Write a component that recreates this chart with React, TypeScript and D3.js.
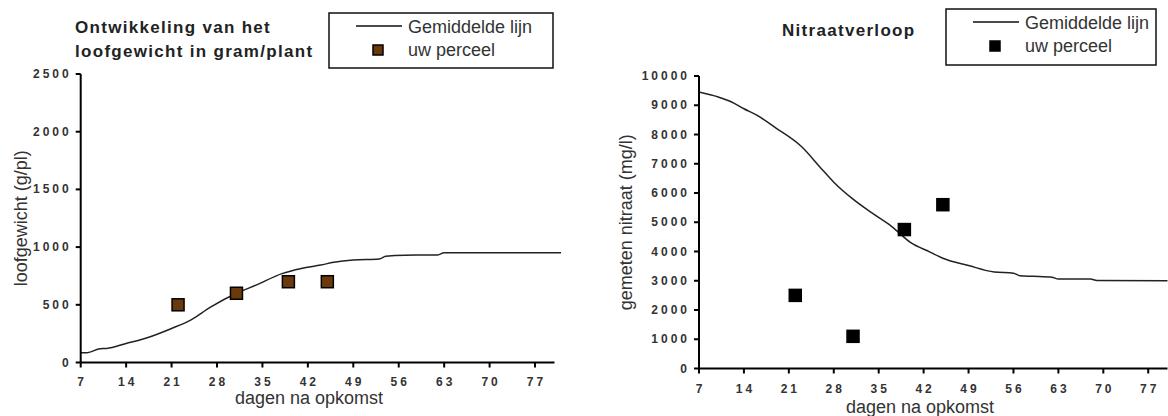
import React from 'react';
import * as d3 from 'd3';

// ---------- data ----------
const xTicks = [7, 14, 21, 28, 35, 42, 49, 56, 63, 70, 77];

const loofYTicks = [0, 500, 1000, 1500, 2000, 2500];
const loofDays = [7, 8, 10, 11, 14, 17, 21, 24, 27, 31, 34, 38, 41, 44, 46, 49, 53, 54, 57, 62, 63, 81];
const loofMean = [85, 85, 120, 122, 165, 210, 295, 370, 480, 600, 670, 770, 815, 845, 868, 888, 897, 920, 930, 932, 950, 950];
const loofPlotDays = [22, 31, 39, 45];
const loofPlotValues = [500, 600, 700, 700];

const nitraatYTicks = [0, 1000, 2000, 3000, 4000, 5000, 6000, 7000, 8000, 9000, 10000];
const nitraatDays = [7, 10, 12, 14, 16, 19, 23, 26, 28, 31, 34, 37, 40, 43, 45, 49, 53, 56, 57, 59, 62, 63, 68, 69, 80];
const nitraatMean = [9450, 9280, 9120, 8880, 8660, 8220, 7580, 6850, 6370, 5790, 5310, 4860, 4300, 3980, 3770, 3520, 3300, 3260, 3170, 3150, 3120, 3060, 3060, 3010, 3000];
const nitraatPlotDays = [22, 31, 39, 45];
const nitraatPlotValues = [2500, 1100, 4750, 5600];

const legendLine = 'Gemiddelde lijn';
const legendPoint = 'uw perceel';
const xTitle = 'dagen na opkomst';

const FONT = '"Liberation Sans", Arial, sans-serif';

type PanelProps = {
  x0: number; x1: number; y0: number; y1: number;
  yMax: number; yTicks: number[];
  days: number[]; mean: number[];
  pDays: number[]; pVals: number[];
  markerFill: string;
  yTitle: string; yTitleX: number;
  xLabelY: number; xTitleX: number; xTitleY: number;
  titleLines: string[]; titleX: number; titleY: number;
  legend: { x: number; y: number; w: number; h: number };
};

function Panel(p: PanelProps) {
  const x = d3.scaleLinear().domain([7, 80]).range([p.x0, p.x1]);
  const y = d3.scaleLinear().domain([0, p.yMax]).range([p.y0, p.y1]);
  const pts: [number, number][] = p.days.map((d, i) => [d, p.mean[i]]);
  const line = d3.line<[number, number]>().x(d => x(d[0])).y(d => y(d[1])).curve(d3.curveMonotoneX);
  const ms = 12;
  const L = p.legend;
  return (
    <g fontFamily={FONT}>
      {p.titleLines.map((t, i) => (
        <text key={i} x={p.titleX} y={p.titleY + i * 24} fontSize={17} fontWeight="bold" letterSpacing={1.3} fill="#222">{t}</text>
      ))}
      <rect x={L.x} y={L.y} width={L.w} height={L.h} fill="white" stroke="#111" strokeWidth={1.5} />
      <line x1={L.x + 27} x2={L.x + 73} y1={L.y + 13} y2={L.y + 13} stroke="#111" strokeWidth={1.5} />
      <text x={L.x + 79} y={L.y + 20} fontSize={18} fill="#333">{legendLine}</text>
      <rect x={L.x + 44} y={L.y + 32} width={10} height={10} fill={p.markerFill} stroke="#000" strokeWidth={1.5} />
      <text x={L.x + 79} y={L.y + 43} fontSize={18} fill="#333">{legendPoint}</text>

      <path d={line(pts) || ''} fill="none" stroke="#222" strokeWidth={1.5} />
      {p.pDays.map((d, i) => (
        <rect key={i} x={x(d) - ms / 2} y={y(p.pVals[i]) - ms / 2} width={ms} height={ms} fill={p.markerFill} stroke="#000" strokeWidth={1.5} />
      ))}

      <line x1={p.x0} x2={p.x0} y1={p.y0} y2={y(p.yMax)} stroke="#000" strokeWidth={2} />
      <line x1={p.x0} x2={p.x1} y1={p.y0} y2={p.y0} stroke="#000" strokeWidth={2} />
      {p.yTicks.map(t => (
        <g key={t}>
          <line x1={p.x0 - 5} x2={p.x0} y1={y(t)} y2={y(t)} stroke="#000" strokeWidth={2} />
          <text x={p.x0 - 9} y={y(t) + 4} fontSize={12} fontWeight="bold" letterSpacing={3} textAnchor="end" fill="#333">{String(t)}</text>
        </g>
      ))}
      {xTicks.map(t => (
        <g key={t}>
          <line x1={x(t)} x2={x(t)} y1={p.y0} y2={p.y0 + 5} stroke="#000" strokeWidth={2} />
          <text x={x(t) + 1.5} y={p.xLabelY} fontSize={12} fontWeight="bold" letterSpacing={3} textAnchor="middle" fill="#333">{String(t)}</text>
        </g>
      ))}
      <text x={p.xTitleX} y={p.xTitleY} fontSize={18} textAnchor="middle" fill="#333">{xTitle}</text>
      <text transform={`translate(${p.yTitleX},${(p.y0 + y(p.yMax)) / 2}) rotate(-90)`} fontSize={18} textAnchor="middle" fill="#333">{p.yTitle}</text>
    </g>
  );
}

export default function App() {
  return (
    <svg width={1168} height={416} style={{ position: 'absolute', left: 0, top: 0, background: 'white' }}>
      <rect width={1168} height={416} fill="white" />
      <Panel
        x0={80.7} x1={554.5} y0={362.5} y1={74} yMax={2500} yTicks={loofYTicks}
        days={loofDays} mean={loofMean} pDays={loofPlotDays} pVals={loofPlotValues}
        markerFill="#6b3a0c" yTitle="loofgewicht (g/pl)" yTitleX={27}
        xLabelY={386} xTitleX={309} xTitleY={404}
        titleLines={['Ontwikkeling van het', 'loofgewicht in gram/plant']} titleX={75} titleY={33}
        legend={{ x: 329, y: 13, w: 224, h: 55 }}
      />
      <Panel
        x0={699} x1={1167.5} y0={368.5} y1={76} yMax={10000} yTicks={nitraatYTicks}
        days={nitraatDays} mean={nitraatMean} pDays={nitraatPlotDays} pVals={nitraatPlotValues}
        markerFill="#000" yTitle="gemeten nitraat (mg/l)" yTitleX={632}
        xLabelY={393} xTitleX={920} xTitleY={413}
        titleLines={['Nitraatverloop']} titleX={782} titleY={36}
        legend={{ x: 946, y: 9, w: 210, h: 56 }}
      />
    </svg>
  );
}
